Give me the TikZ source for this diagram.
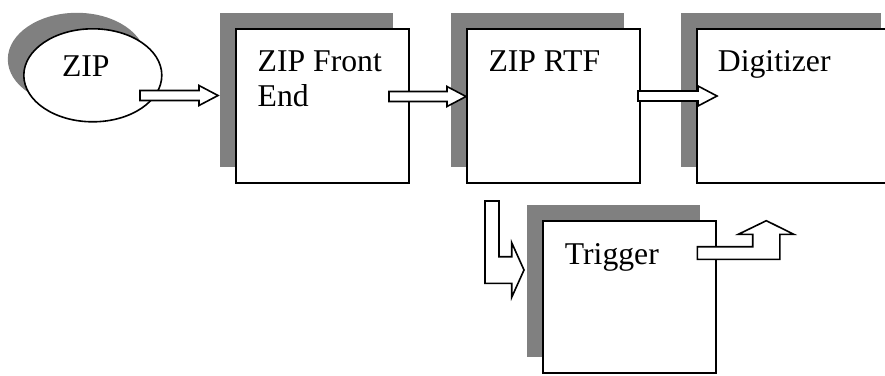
\documentclass[tikz,border=0pt]{standalone}
\usepackage{fontspec}
\setmainfont{Liberation Serif}
\usetikzlibrary{shapes.geometric,shadows}
\tikzset{
  blk/.style={draw, fill=white, line width=1.6, inner sep=0, outer sep=0,
    anchor=north west, minimum width=173, minimum height=154,
    general shadow={fill=gray, shadow xshift=-16pt, shadow yshift=16pt}},
  lbl/.style={font=\fontsize{31.7}{35}\selectfont, inner sep=0, anchor=base west, align=left},
  barrow/.style={draw, fill=white, line width=1.6, line join=miter},
}
% straight block arrow from #1 to tip #2 (same height)
\newcommand\harrow[2]{\draw[barrow] ([shift={(0,-5)}]#1) -- ([shift={(-19,-5)}]#2)
  -- ([shift={(-19,-10)}]#2) -- (#2) -- ([shift={(-19,10)}]#2)
  -- ([shift={(-19,5)}]#2) -- ([shift={(0,5)}]#1) -- cycle;}
\begin{document}
\begin{tikzpicture}[x=1pt, y=-1pt]
  \clip (0,0) rectangle (885,375);
  % blocks
  \node[blk, ellipse, anchor=center, minimum width=138, minimum height=93] (zip) at (92.8,75.3) {};
  \node[blk] (fe) at (236,29) {};
  \node[blk] (rtf) at (467,29) {};
  \node[blk, minimum width=200] (dig) at (697,29) {};
  \node[blk, minimum height=152] (trig) at (543,221) {};
  % labels (base = last line)
  \node[lbl] (zip-t) at ([shift={(-31,1)}]zip.center) {ZIP};
  \node[lbl] (fe-t) at ([shift={(21.5,77)}]fe.north west) {ZIP Front\\End};
  \node[lbl] (rtf-t) at ([shift={(21.3,42)}]rtf.north west) {ZIP RTF};
  \node[lbl] (dig-t) at ([shift={(20.7,42)}]dig.north west) {Digitizer};
  \node[lbl] (trig-t) at ([shift={(21.7,43)}]trig.north west) {Trigger};
  % arrows
  \coordinate (a1s) at (140,95.5); \coordinate (a1e) at (218,95.5);
  \coordinate (a2s) at (389,96.5); \coordinate (a2e) at (466,96.5);
  \coordinate (a3s) at (638,96);   \coordinate (a3e) at (717,96);
  \harrow{a1s}{a1e}
  \harrow{a2s}{a2e}
  \harrow{a3s}{a3e}
  % into trigger
  \coordinate (tin) at (492,201); \coordinate (ttip) at (524,270);
  \coordinate (tknee) at (tin |- ttip);
  \draw[barrow] ([shift={(-7,0)}]tin) -- ([shift={(7,0)}]tin) -- ([shift={(7,-13.3)}]tknee)
    -- ([shift={(-12.3,-13.3)}]ttip) -- ([shift={(-12.3,-27.3)}]ttip) -- (ttip)
    -- ([shift={(-12.3,27.3)}]ttip) -- ([shift={(-12.3,13.3)}]ttip)
    -- ([shift={(-7,13.3)}]tknee) -- cycle;
  % out of trigger
  \coordinate (tout) at (697.3,253); \coordinate (utip) at (766.3,220.7);
  \coordinate (uknee) at (utip |- tout);
  \draw[barrow] ([shift={(0,-6.3)}]tout) -- ([shift={(-13.6,-6.3)}]uknee)
    -- ([shift={(-13.6,13.6)}]utip) -- ([shift={(-28,13.6)}]utip) -- (utip)
    -- ([shift={(27.5,13.6)}]utip) -- ([shift={(13.6,13.6)}]utip)
    -- ([shift={(13.6,6.3)}]uknee) -- ([shift={(0,6.3)}]tout) -- cycle;
\end{tikzpicture}
\end{document}
